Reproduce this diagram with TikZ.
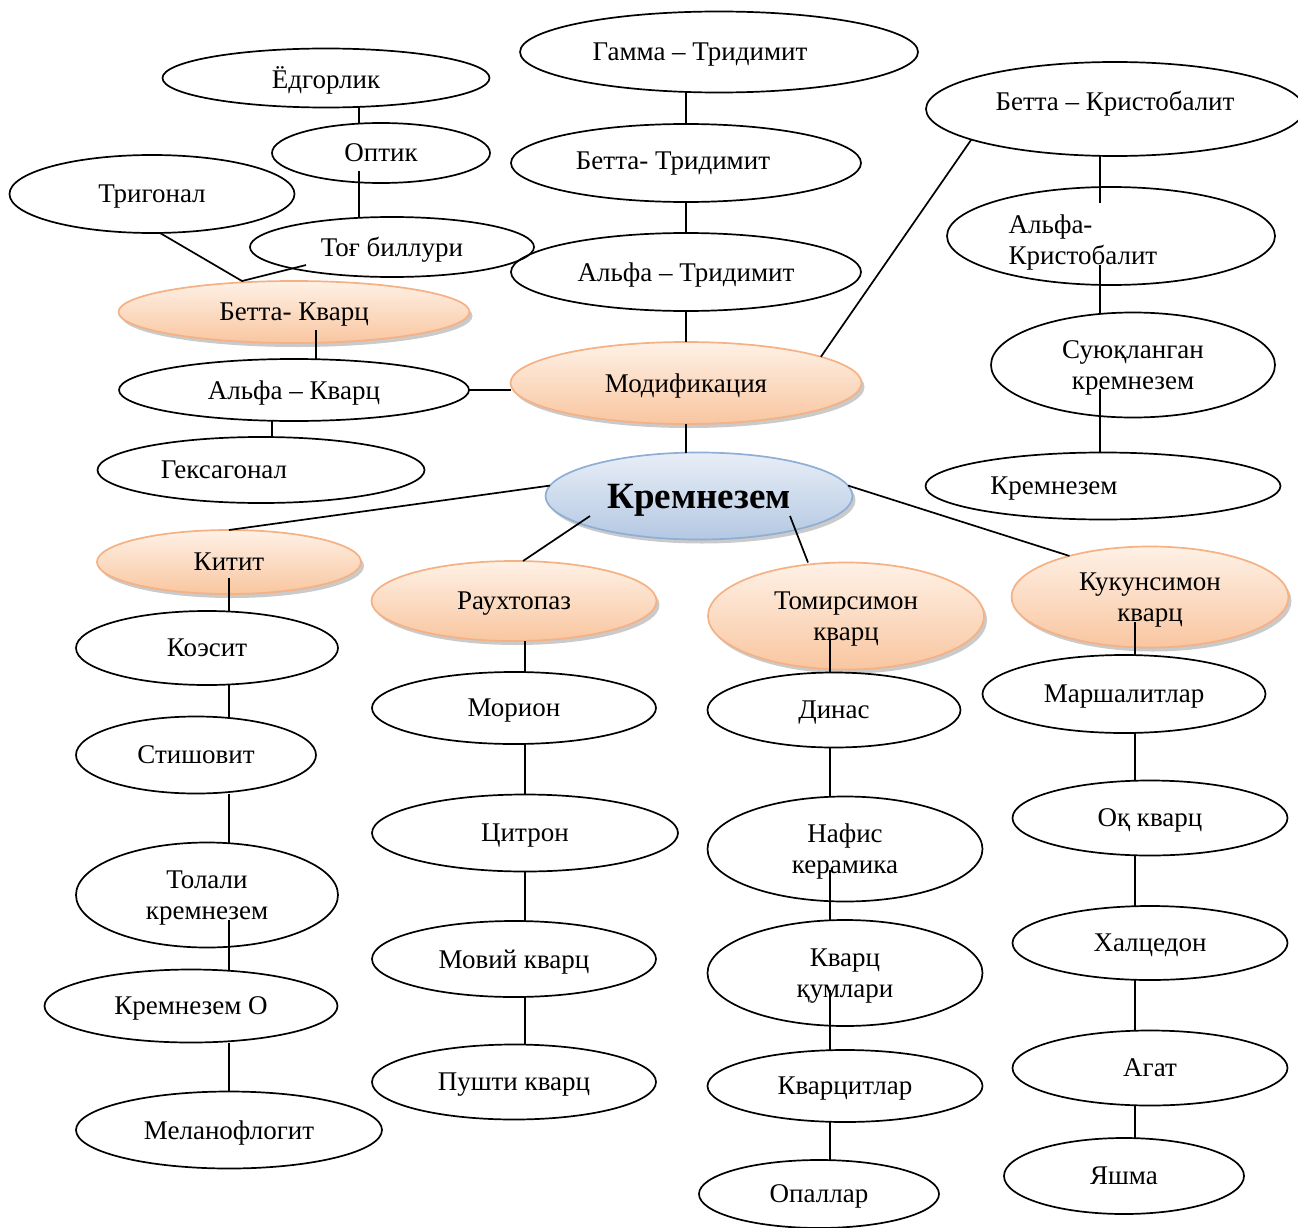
\documentclass[tikz,border=0pt]{standalone}
\usepackage{fontspec}
\setmainfont{Liberation Serif}
\usetikzlibrary{shapes.geometric,shadows}
\definecolor{peachtop}{HTML}{FEF1E6}
\definecolor{peachbot}{HTML}{F9C6A0}
\definecolor{peachline}{HTML}{F5B183}
\definecolor{skytop}{HTML}{E8EEF7}
\definecolor{skybot}{HTML}{B4C8E2}
\definecolor{skyline}{HTML}{8FAED6}

\begin{document}
\begin{tikzpicture}[x=1pt,y=1pt,
    every node/.style={font=\fontsize{27}{31}\selectfont, text depth=0pt},
    oval/.style 2 args={draw=black, line width=1.7pt, ellipse, inner sep=0pt, outer sep=0pt,
                        minimum width=#1pt, minimum height=#2pt},
    peach/.style={draw=peachline, top color=peachtop, bottom color=peachbot,
                  drop shadow={shadow xshift=3pt, shadow yshift=-4pt, opacity=.35, fill=black!60}},
    sky/.style={draw=skyline, top color=skytop, bottom color=skybot,
                drop shadow={shadow xshift=3pt, shadow yshift=-4pt, opacity=.35, fill=black!60}},
    link/.style={line width=1.7pt}]
\useasboundingbox (0,0) rectangle (1298,-1228);

% modifications column
\node[oval={398}{81}] (gamma) at (719,-52) {};
\node (gammaT) at (700,-52) {Гамма – Тридимит};
\node[oval={350}{78}] (betatri) at (686,-163) {};
\node (betatriT) at (673,-161) {Бетта- Тридимит};
\node[oval={350}{78}] (alfatri) at (686,-272) {Альфа – Тридимит};
\node[oval={351}{82},peach] (modif) at (686,-383) {Модификация};
\node[oval={307}{87},sky,font=\fontsize{37}{40}\selectfont\bfseries] (krem) at (699,-496) {Кремнезем};

% quartz branch
\node[oval={327}{59}] (yodg) at (326,-78) {Ёдгорлик};
\node[oval={218}{60}] (optik) at (381,-153) {Оптик};
\node[oval={285}{78}] (trig) at (152,-194) {Тригонал};
\node[oval={284}{60}] (togb) at (392,-247) {Тоғ биллури};
\node[oval={351}{62},peach] (betak) at (294,-312) {Бетта- Кварц};
\node[oval={350}{62}] (alfak) at (294,-390) {Альфа – Кварц};
\node[oval={327}{66}] (hex) at (261,-470) {};
\node (hexT) at (224,-470) {Гексагонал};

% cristobalite branch
\node[oval={378}{94}] (betakr) at (1115,-109) {};
\node (betakrT) at (1115,-101) {Бетта – Кристобалит};
\node[oval={328}{98}] (alfakr) at (1111,-236) {};
\node[align=left] (alfakrT) at (1083,-240) {Альфа-\\Кристобалит};
\node[oval={284}{105},align=center] (suyuq) at (1133,-365) {Суюқланган\\кремнезем};
\node[oval={355}{67}] (kremR) at (1103,-486) {};
\node (kremRT) at (1054,-486) {Кремнезем};

% lower groups
\node[oval={264}{64},peach] (kitit) at (229,-562) {Китит};
\node[oval={285}{80},peach] (rauh) at (514,-601) {Раухтопаз};
\node[oval={276}{107},peach,align=center] (tomir) at (846,-616) {Томирсимон\\кварц};
\node[oval={277}{101},peach,align=center] (kukun) at (1150,-597) {Кукунсимон\\кварц};

\node[oval={262}{74}] (koesit) at (207,-648) {Коэсит};
\node[oval={240}{77}] (stish) at (196,-755) {Стишовит};
\node[oval={262}{105},align=center] (tolali) at (207,-895) {Толали\\кремнезем};
\node[oval={293}{73}] (kremO) at (191,-1006) {Кремнезем О};
\node[oval={306}{77}] (melan) at (229,-1130) {Меланофлогит};

\node[oval={284}{72}] (morion) at (514,-708) {Морион};
\node[oval={306}{77}] (citron) at (525,-833) {Цитрон};
\node[oval={284}{76}] (moviy) at (514,-959) {Мовий кварц};
\node[oval={284}{75}] (pushti) at (514,-1082) {Пушти кварц};

\node[oval={253}{75}] (dinas) at (834,-710) {Динас};
\node[oval={275}{105},align=center] (nafis) at (845,-849) {Нафис\\керамика};
\node[oval={275}{106},align=center] (kvq) at (845,-973) {Кварц\\қумлари};
\node[oval={275}{72}] (kvcit) at (845,-1086) {Кварцитлар};
\node[oval={240}{68}] (opal) at (819,-1194) {Опаллар};

\node[oval={283}{78}] (marsh) at (1124,-694) {Маршалитлар};
\node[oval={275}{75}] (oq) at (1150,-818) {Оқ кварц};
\node[oval={275}{74}] (halc) at (1150,-943) {Халцедон};
\node[oval={275}{75}] (agat) at (1150,-1068) {Агат};
\node[oval={240}{76}] (yashma) at (1124,-1176) {Яшма};

% connectors
\draw[link] (betatri.north) -- (betatri.north |- gamma.south);
\draw[link] (betatri) -- (alfatri);
\draw[link] (alfatri) -- (modif);
\draw[link] (modif.south) -- (modif.south |- krem.north);
\draw[link] (betakr.192) -- (modif.11);
\draw[link] ([xshift=-15pt]betakr.south) -- ([shift={(-11,-16)}]alfakr.north);
\draw[link] ([shift={(-11,-29)}]alfakr.center) -- ([xshift=-33pt]suyuq.north);
\draw[link] ([shift={(-33,-24)}]suyuq.center) -- ([xshift=-3pt]kremR.north);

\draw[link] ([xshift=33pt]yodg.south) -- ([xshift=-22pt]optik.north);
\draw[link] ([shift={(-22,-18)}]optik.center) -- ([xshift=-33pt]togb.north);
\draw[link] ([xshift=8pt]trig.south) -- ([xshift=-52pt]betak.north) -- ([shift={(-86,-18)}]togb.center);
\draw[link] ([shift={(22,-18)}]betak.center) -- ([xshift=22pt]alfak.north);
\draw[link] (alfak.east) -- (alfak.east -| modif.west);
\draw[link] ([xshift=-22pt]alfak.south) -- ([xshift=11pt]hex.north);

\draw[link] (krem.176) -- (kitit.north);
\draw[link] ([shift={(-109,-20)}]krem.center) -- ([xshift=9pt]rauh.north);
\draw[link] ([shift={(91,-20)}]krem.center) -- ([xshift=-38pt]tomir.north);
\draw[link] (krem.4) -- (kukun.153);

\draw[link] ([shift={(0,-16)}]kitit.center) -- ([xshift=22pt]koesit.north);
\draw[link] ([xshift=22pt]koesit.south) -- ([xshift=33pt]stish.north);
\draw[link] ([xshift=33pt]stish.south) -- ([xshift=22pt]tolali.north);
\draw[link] ([shift={(22,-25)}]tolali.center) -- ([xshift=38pt]kremO.north);
\draw[link] ([xshift=38pt]kremO.south) -- (melan.north);

\draw[link] ([xshift=11pt]rauh.south) -- ([xshift=11pt]morion.north);
\draw[link] ([xshift=11pt]morion.south) -- (citron.north);
\draw[link] (citron.south) -- ([xshift=11pt]moviy.north);
\draw[link] ([xshift=11pt]moviy.south) -- ([xshift=11pt]pushti.north);

\draw[link] ([shift={(-16,-24)}]tomir.center) -- ([xshift=-4pt]dinas.north);
\draw[link] ([xshift=-4pt]dinas.south) -- ([xshift=-15pt]nafis.north);
\draw[link] ([shift={(-15,-21)}]nafis.center) -- ([xshift=-15pt]kvq.north);
\draw[link] ([shift={(-15,-17)}]kvq.center) -- ([xshift=-15pt]kvcit.north);
\draw[link] ([xshift=-15pt]kvcit.south) -- ([xshift=11pt]opal.north);

\draw[link] ([shift={(-15,-25)}]kukun.center) -- ([xshift=11pt]marsh.north);
\draw[link] ([xshift=11pt]marsh.south) -- ([xshift=-15pt]oq.north);
\draw[link] ([xshift=-15pt]oq.south) -- ([xshift=-15pt]halc.north);
\draw[link] ([xshift=-15pt]halc.south) -- ([xshift=-15pt]agat.north);
\draw[link] ([xshift=-15pt]agat.south) -- ([xshift=11pt]yashma.north);
\end{tikzpicture}
\end{document}
